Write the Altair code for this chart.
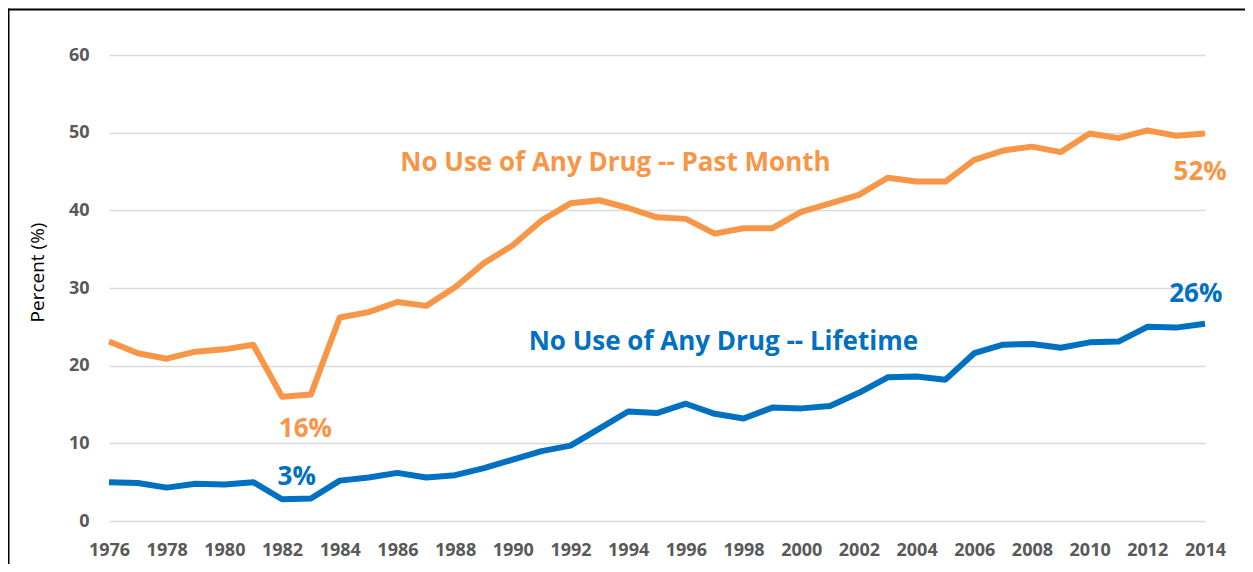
import altair as alt
import pandas as pd

# ---- data ----
years = list(range(1976, 2015))
past_month = [23.1, 21.6, 20.9, 21.8, 22.1, 22.7, 16.0, 16.3, 26.2, 26.9,
              28.2, 27.7, 30.1, 33.2, 35.5, 38.7, 40.9, 41.3, 40.3, 39.1,
              38.9, 37.0, 37.7, 37.7, 39.8, 40.9, 42.0, 44.2, 43.7, 43.7,
              46.5, 47.7, 48.2, 47.5, 49.9, 49.3, 50.3, 49.6, 49.9]
lifetime = [5.0, 4.9, 4.3, 4.8, 4.7, 5.0, 2.8, 2.9, 5.2, 5.6,
            6.2, 5.6, 5.9, 6.8, 7.9, 9.0, 9.7, 11.9, 14.1, 13.9,
            15.1, 13.8, 13.2, 14.6, 14.5, 14.8, 16.5, 18.5, 18.6, 18.2,
            21.6, 22.7, 22.8, 22.3, 23.0, 23.1, 25.0, 24.9, 25.4]
series_names = ["Past Month", "Lifetime"]
series_colors = ["#F79646", "#0070C0"]
y_ticks = [0, 10, 20, 30, 40, 50, 60]
x_ticks = list(range(1976, 2015, 2))

# annotation texts (positions in data units)
series_labels = ["No Use of Any Drug -- Past Month", "No Use of Any Drug -- Lifetime"]
series_label_year = [1986.1, 1990.55]
series_label_value = [45.05, 21.98]
pct_labels = ["16%", "3%", "52%", "26%"]
pct_series = ["Past Month", "Lifetime", "Past Month", "Lifetime"]
pct_year = [1982.81, 1982.51, 2013.83, 2013.68]
pct_value = [10.8, 4.58, 43.9, 28.2]

FONT = "Open Sans"

df = pd.DataFrame({
    "year": years * 2,
    "value": past_month + lifetime,
    "series": ["Past Month"] * len(years) + ["Lifetime"] * len(years),
})
ann1 = pd.DataFrame({"label": series_labels, "year": series_label_year,
                     "value": series_label_value, "series": series_names})
ann2 = pd.DataFrame({"label": pct_labels, "year": pct_year,
                     "value": pct_value, "series": pct_series})

xscale = alt.Scale(domain=[1976, 2014], nice=False, zero=False)
yscale = alt.Scale(domain=[0, 60], nice=False)
cscale = alt.Scale(domain=series_names, range=series_colors)

x_axis = alt.Axis(values=x_ticks, format="d", title=None, grid=False,
                  domain=False, ticks=False, tickSize=0, labelPadding=20,
                  labelFlush=False,
                  labelFont=FONT, labelFontSize=18, labelFontWeight="bold",
                  labelColor="#595959", labelOverlap=False)
y_axis = alt.Axis(values=y_ticks, title="Percent (%)", grid=True,
                  gridColor="#D9D9D9", gridWidth=1.5, domain=False,
                  ticks=False, tickSize=0, labelPadding=20,
                  labelFont=FONT, labelFontSize=18, labelFontWeight="bold",
                  labelColor="#595959",
                  titleFont=FONT, titleFontSize=19, titleFontWeight="normal",
                  titleColor="#000000", titleAngle=270, titleAlign="center",
                  titleBaseline="bottom", titleX=-62, titleY=217)

lines = alt.Chart(df).mark_line(strokeWidth=6, strokeJoin="round").encode(
    x=alt.X("year:Q", scale=xscale, axis=x_axis),
    y=alt.Y("value:Q", scale=yscale, axis=y_axis),
    color=alt.Color("series:N", scale=cscale, legend=None),
    detail="series:N",
)

text1 = alt.Chart(ann1).mark_text(align="left", baseline="alphabetic",
                                  font=FONT, fontSize=26, fontWeight="bold").encode(
    x=alt.X("year:Q", scale=xscale),
    y=alt.Y("value:Q", scale=yscale),
    text="label:N",
    color=alt.Color("series:N", scale=cscale, legend=None),
)

text2 = alt.Chart(ann2).mark_text(align="center", baseline="alphabetic",
                                  font=FONT, fontSize=26, fontWeight="bold").encode(
    x=alt.X("year:Q", scale=xscale),
    y=alt.Y("value:Q", scale=yscale),
    text="label:N",
    color=alt.Color("series:N", scale=cscale, legend=None),
)

frame_df = pd.DataFrame({"k": [0]})
frame_left = alt.Chart(frame_df).mark_rule(color="#000000", strokeWidth=2).encode(
    x=alt.value(-100.5), y=alt.value(-46.5), y2=alt.value(509))
frame_top = alt.Chart(frame_df).mark_rule(color="#000000", strokeWidth=2).encode(
    x=alt.value(-101), x2=alt.value(1136), y=alt.value(-45.5))

chart = alt.layer(lines, text1, text2, frame_left, frame_top).properties(
    width=1096, height=466,
    autosize=alt.AutoSizeParams(type="none"),
    padding={"left": 101, "top": 47, "right": 40, "bottom": 43},
    background="white",
).configure_view(stroke=None)

chart.save("out.html", embed_options={"renderer": "svg", "actions": False})
